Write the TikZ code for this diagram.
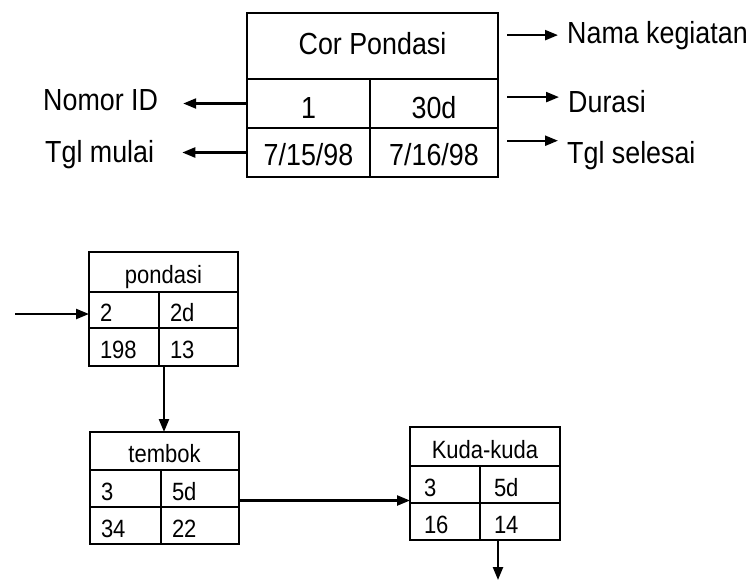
\documentclass[tikz,border=0pt]{standalone}
\usepackage{fontspec}
\setmainfont[FakeStretch=0.88]{Liberation Sans}
\usetikzlibrary{arrows.meta,positioning}

\tikzset{
  kotak/.style={draw, line width=2.3pt, inner sep=0pt, outer sep=0pt, text depth=0pt},
  besar/.style={kotak, font=\fontsize{30.5}{35}\selectfont},
  kecil/.style={kotak, font=\fontsize{25}{29}\selectfont, text height=23pt},
  isian/.style={kecil, align=left, inner xsep=11pt},
  ket/.style={font=\fontsize{30.5}{35}\selectfont, inner sep=0pt, anchor=base west},
  panah/.style={-{Triangle[length=13pt,width=10pt]}, line width=2.3pt},
}

\begin{document}
\begin{tikzpicture}[x=1pt, y=-1pt]
    \useasboundingbox (0,0) rectangle (752,582);

    % Legend box
    \node[besar, text height=16pt, minimum width=251pt, minimum height=66pt, anchor=north west] (cor) at (247,13) {Cor Pondasi};
    \node[besar, text height=29pt, minimum width=123pt, minimum height=49pt, below right=0pt of cor.south west] (id) {1};
    \node[besar, text height=29pt, minimum width=128pt, minimum height=49pt, right=0pt of id] (durasi) {30d};
    \node[besar, text height=25pt, minimum width=123pt, minimum height=49pt, below right=0pt of id.south west] (mulai) {7/15/98};
    \node[besar, text height=25pt, minimum width=128pt, minimum height=49pt, right=0pt of mulai] (selesai) {7/16/98};

    % Legend labels
    \node[ket] (nomor) at (43,110) {Nomor ID};
    \node[ket] (tglmulai) at (45,162) {Tgl mulai};
    \node[ket] (nama) at (567,43) {Nama kegiatan};
    \node[ket] (durasilbl) at (568,112) {Durasi};
    \node[ket] (tglselesai) at (567,163) {Tgl selesai};

    \draw[panah] (id.west) -- ([xshift=25pt]id.west -| nomor.east);
    \draw[panah] (mulai.west) -- ([xshift=28pt]mulai.west -| tglmulai.east);
    \draw[panah] ([xshift=9pt]cor.east |- nama.west) -- ([xshift=-9pt]nama.west);
    \draw[panah] ([xshift=9pt,yshift=4pt]durasi.east |- durasilbl.west) -- ([xshift=-9pt,yshift=4pt]durasilbl.west);
    \draw[panah] ([xshift=9pt]selesai.east |- tglselesai.north) -- ([xshift=-9pt]tglselesai.north west);

    % pondasi
    \node[kecil, minimum width=149pt, minimum height=40pt, anchor=north west] (pondasi) at (89,252) {pondasi};
    \node[isian, text width=48pt, minimum height=36pt, below right=0pt of pondasi.south west] (p1) {2};
    \node[isian, text width=57pt, minimum height=36pt, right=0pt of p1] (p2) {2d};
    \node[isian, text width=48pt, minimum height=38pt, below right=0pt of p1.south west] (p3) {198};
    \node[isian, text width=57pt, minimum height=38pt, right=0pt of p3] (p4) {13};

    % tembok
    \node[kecil, minimum width=149pt, minimum height=38pt, anchor=north west] (tembok) at (90,432) {tembok};
    \node[isian, text width=49pt, minimum height=37pt, below right=0pt of tembok.south west] (t1) {3};
    \node[isian, text width=56pt, minimum height=37pt, right=0pt of t1] (t2) {5d};
    \node[isian, text width=49pt, minimum height=37pt, below right=0pt of t1.south west] (t3) {34};
    \node[isian, text width=56pt, minimum height=37pt, right=0pt of t3] (t4) {22};

    % Kuda-kuda
    \node[kecil, minimum width=150pt, minimum height=39pt, anchor=north west] (kuda) at (410,427) {Kuda-kuda};
    \node[isian, inner xsep=14pt, text width=42pt, minimum height=37pt, below right=0pt of kuda.south west] (k1) {3};
    \node[isian, inner xsep=14pt, text width=52pt, minimum height=37pt, right=0pt of k1] (k2) {5d};
    \node[isian, inner xsep=14pt, text width=42pt, minimum height=37pt, below right=0pt of k1.south west] (k3) {16};
    \node[isian, inner xsep=14pt, text width=52pt, minimum height=37pt, right=0pt of k3] (k4) {14};

    % Arrows between activities
    \coordinate (masuk) at (15,314);
    \coordinate (keluar) at (498,580);
    \draw[panah] (masuk) -- (masuk -| p1.west);
    \draw[panah] ([xshift=5pt]p4.south west) -- ([xshift=5pt]p4.south west |- tembok.north);
    \draw[panah] ([yshift=-12pt]t2.east) -- ([yshift=-12pt]t2.east -| k1.west);
    \draw[panah] (keluar |- k4.south) -- (keluar);
\end{tikzpicture}
\end{document}
